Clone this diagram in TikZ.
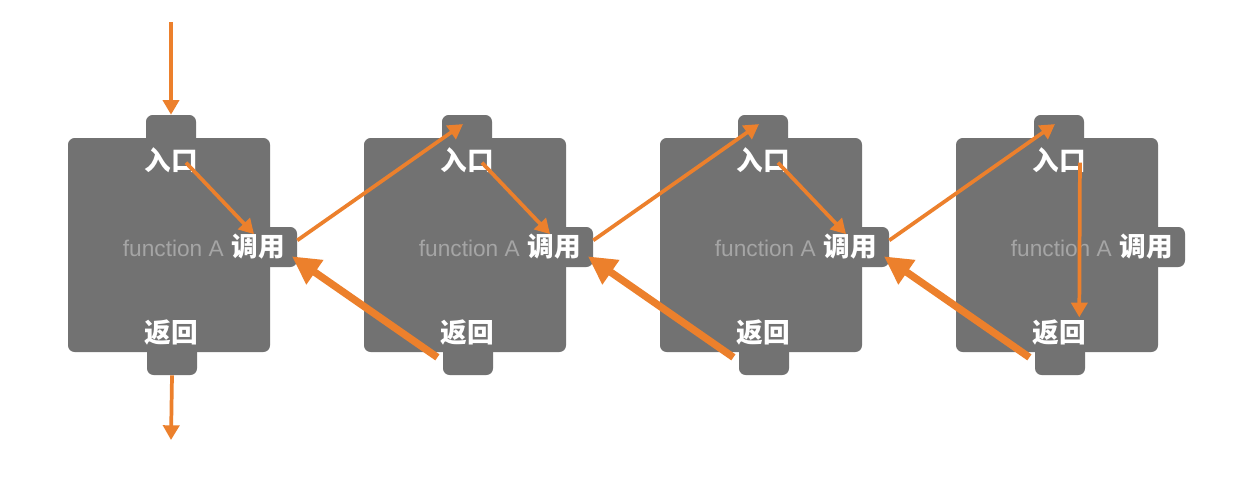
\documentclass[tikz,border=0pt]{standalone}
\usepackage{fontspec}
\newfontfamily\cjk{Noto Sans CJK SC}
\setsansfont{Liberation Sans}
\usetikzlibrary{arrows.meta}
\definecolor{boxgray}{RGB}{114,114,114}
\definecolor{org}{RGB}{236,128,44}
\definecolor{fngray}{RGB}{165,165,165}
\begin{document}
\begin{tikzpicture}[x=0.75pt,y=-0.75pt,
  shapebox/.style={fill=boxgray,rounded corners=5pt,inner sep=0pt,draw=none},
  bodybox/.style={shapebox,minimum width=151.5pt,minimum height=160.5pt},
  tabbox/.style={shapebox,minimum width=37.5pt,minimum height=22.5pt},
  calltab/.style={shapebox,minimum width=52.5pt,minimum height=30pt},
  lbl/.style={text=white,font=\cjk\bfseries\fontsize{20pt}{20pt}\selectfont,inner sep=0pt},
  fnlbl/.style={text=fngray,font=\sffamily\fontsize{17pt}{17pt}\selectfont,inner sep=0pt,anchor=east},
  flow/.style={draw=org,line width=2.8pt,-{Triangle[length=11pt,width=12pt]}},
  back/.style={draw=org,line width=5.5pt,-{Triangle[length=21pt,width=21pt]}},
]
\fill[white] (0,0) rectangle (1255,487);
\useasboundingbox (0,0) rectangle (1255,487);
\foreach \i in {1,...,4}{
  \pgfmathsetmacro\dx{296*(\i-1)}
  \node[tabbox] (top\i) at (171+\dx,130) {};
  \node[tabbox] (bot\i) at (172+\dx,360) {};
  \node[calltab] (call\i) at (262+\dx,247) {};
  \node[bodybox] (body\i) at (169+\dx,245) {};
  \node[lbl] (in\i) at (171+\dx,160) {入口};
  \node[lbl] (ret\i) at (171+\dx,333) {返回};
  \node[lbl] (cl\i) at (258+\dx,247) {调用};
  \node[fnlbl] (fn\i) at (224+\dx,248) {function A};
}
\coordinate (startpt) at (171,22);
\coordinate (endpt) at (171,440);
\draw[flow] (startpt) -- (top1.north);
\draw[flow] (bot1.south) -- (endpt);
\foreach \i in {1,2,3}{
  \draw[flow] ([xshift=-9pt,yshift=-2pt]in\i.east) -- ([xshift=-3pt]cl\i.north);
}
\draw[flow] ([xshift=-4.5pt,yshift=-2pt]in4.east) -- ([xshift=-5pt,yshift=2pt]ret4.north east);
\foreach \i/\j in {1/2,2/3,3/4}{
  \draw[flow] ([yshift=5pt]call\i.east) -- ([xshift=-3pt,yshift=-7pt]top\j.north);
  \draw[back] ([xshift=-4pt,yshift=2pt]bot\j.west) -- ([xshift=-4pt,yshift=-7pt]call\i.east);
}
\end{tikzpicture}
\end{document}
